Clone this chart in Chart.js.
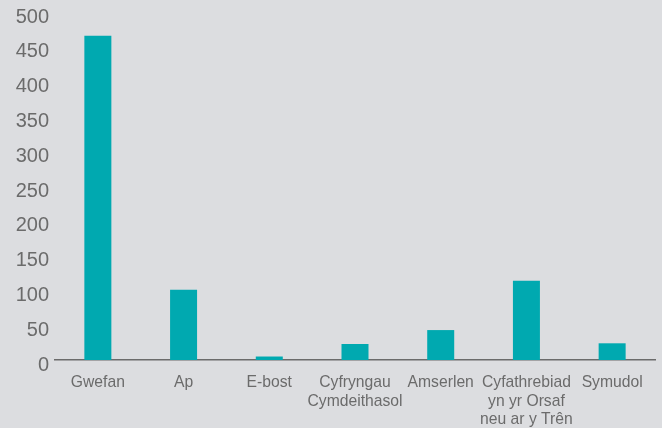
<!DOCTYPE html>
<html>
<head>
<meta charset="utf-8">
<script src="https://cdn.jsdelivr.net/npm/chart.js@4"></script>
<style>
    html, body { margin: 0; padding: 0; background: #dcdde0; }
    #wrap { width: 662px; height: 428px; }
</style>
</head>
<body>
<div id="wrap"><canvas id="chart" width="662" height="428"></canvas></div>
<script>
// Categories and values
const categories = [
    'Gwefan',
    'Ap',
    'E-bost',
    ['Cyfryngau', 'Cymdeithasol'],
    'Amserlen',
    ['Cyfathrebiad', 'yn yr Orsaf', 'neu ar y Trên'],
    'Symudol'
];
const values = [466, 101, 5, 23, 43, 114, 24];
const yTicks = [0, 50, 100, 150, 200, 250, 300, 350, 400, 450, 500];

const ctx = document.getElementById('chart');

new Chart(ctx, {
    type: 'bar',
    data: {
        labels: categories,
        datasets: [{
            data: values,
            backgroundColor: '#00a9b0',
            categoryPercentage: 1,
            barPercentage: 0.315
        }]
    },
    options: {
        responsive: false,
        animation: false,
        layout: { padding: { top: 0, right: 7, left: 0, bottom: 0 } },
        plugins: {
            legend: { display: false },
            tooltip: { enabled: false }
        },
        scales: {
            x: {
                grid: { display: false, drawTicks: false },
                border: { display: true, color: '#6b6b6b', width: 1.5 },
                ticks: {
                    color: '#6b6b6b',
                    font: { family: 'Liberation Sans', size: 15.7 },
                    padding: 13,
                    maxRotation: 0,
                    autoSkip: false
                },
                afterFit: function(scale) { scale.height = 68; }
            },
            y: {
                min: 0,
                max: 500,
                grid: { display: false, drawTicks: false },
                border: { display: false },
                afterBuildTicks: function(scale) {
                    scale.ticks = yTicks.map(v => ({ value: v }));
                },
                ticks: {
                    color: '#6b6b6b',
                    font: { family: 'Liberation Sans', size: 20 },
                    padding: 6,
                    labelOffset: 5
                },
                afterFit: function(scale) {
                    scale.width = 55;
                    scale.paddingTop = 12;
                }
            }
        }
    }
});
</script>
</body>
</html>
